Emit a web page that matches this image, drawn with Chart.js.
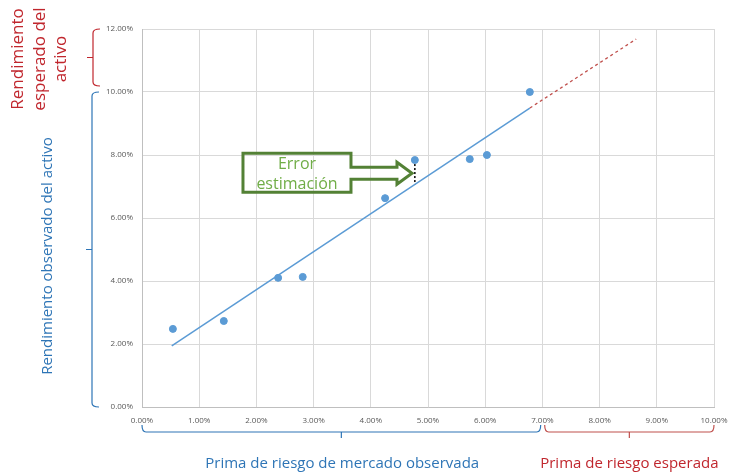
<!DOCTYPE html>
<html>
<head>
<meta charset="utf-8">
<script src="https://cdn.jsdelivr.net/npm/chart.js@4/dist/chart.umd.min.js"></script>
<style>
  html, body { margin: 0; padding: 0; background: #fff; }
  #wrap { width: 732px; height: 474px; }
</style>
</head>
<body>
<div id="wrap"><canvas id="capmChart" width="732" height="474"></canvas></div>
<script>
// observed points (market premium %, asset return %)
const obsX = [0.54, 1.43, 2.38, 2.81, 4.25, 4.77, 5.73, 6.03, 6.78];
const obsY = [2.48, 2.73, 4.10, 4.13, 6.63, 7.84, 7.87, 8.00, 10.00];
// fitted line over observed range
const fitX = [0.52, 6.78];
const fitY = [1.94, 9.49];
// extrapolated (expected) part
const expX = [6.78, 8.64];
const expY = [9.49, 11.68];
// estimation error segment
const errX = [4.77, 4.77];
const errY = [7.84, 7.06];
const xTicks = [0, 1, 2, 3, 4, 5, 6, 7, 8, 9, 10];
const yTicks = [0, 2, 4, 6, 8, 10, 12];

const BLUE = '#5b9bd5';
const RED = '#c0504d';
const TXT_RED = '#c0262d';
const TXT_BLUE = '#2e75b6';
const GREEN_DK = '#538135';
const GREEN_TX = '#70ad47';

const pts = (xs, ys) => xs.map((x, i) => ({ x: x, y: ys[i] }));

function brace(ctx, horiz, a, b, pos, tip, color) {
  // a..b along axis, pos = line position, tip = mid point, hooks 7px
  const h = 7;
  ctx.save();
  ctx.strokeStyle = color;
  ctx.lineWidth = 1.2;
  ctx.beginPath();
  if (!horiz) {
    ctx.moveTo(pos + h, a);
    ctx.quadraticCurveTo(pos, a, pos, a + 4);
    ctx.lineTo(pos, b - 4);
    ctx.quadraticCurveTo(pos, b, pos + h, b);
    ctx.moveTo(pos, tip);
    ctx.lineTo(pos - 6, tip);
  } else {
    ctx.moveTo(a, pos - h);
    ctx.quadraticCurveTo(a, pos, a + 4, pos);
    ctx.lineTo(b - 4, pos);
    ctx.quadraticCurveTo(b, pos, b, pos - h);
    ctx.moveTo(tip, pos);
    ctx.lineTo(tip, pos + 6);
  }
  ctx.stroke();
  ctx.restore();
}

const decorations = {
  id: 'decorations',
  afterDraw(chart) {
    const ctx = chart.ctx;
    const xs = chart.scales.x, ys = chart.scales.y;
    const px = v => xs.getPixelForValue(v);
    const py = v => ys.getPixelForValue(v);

    // left braces
    brace(ctx, false, py(12), py(10) - 6, 93, (py(12) + py(10) - 6) / 2, TXT_RED);
    brace(ctx, false, py(10), py(0), 92, (py(10) + py(0)) / 2, TXT_BLUE);
    // bottom braces
    brace(ctx, true, px(0), px(6.97), 432, (px(0) + px(6.97)) / 2, TXT_BLUE);
    brace(ctx, true, px(7.04), px(10), 432, (px(7.04) + px(10)) / 2, RED);

    ctx.save();
    ctx.textAlign = 'center';
    ctx.textBaseline = 'middle';
    // rotated red label
    ctx.fillStyle = TXT_RED;
    ctx.font = '17px "Open Sans", sans-serif';
    ctx.save();
    ctx.translate(0, 59);
    ctx.rotate(-Math.PI / 2);
    ctx.fillText('Rendimiento', 0, 18);
    ctx.fillText('esperado del', 0, 40);
    ctx.fillText('activo', 0, 61);
    ctx.restore();
    // rotated blue label
    ctx.fillStyle = TXT_BLUE;
    ctx.font = '15px "Open Sans", sans-serif';
    ctx.save();
    ctx.translate(48, 256);
    ctx.rotate(-Math.PI / 2);
    ctx.fillText('Rendimiento observado del activo', 0, 0);
    ctx.restore();
    // bottom labels
    ctx.font = '15px "Open Sans", sans-serif';
    ctx.fillText('Prima de riesgo de mercado observada', (px(0) + px(7)) / 2, 464);
    ctx.fillStyle = TXT_RED;
    ctx.fillText('Prima de riesgo esperada', (px(7.04) + px(10)) / 2, 464);

    // error callout arrow
    const tipX = px(4.72), tipY = py(7.42);
    const L = tipX - 169, R = tipX - 61, T = tipY - 20, B = tipY + 19;
    const hx = tipX - 15;
    ctx.strokeStyle = GREEN_DK;
    ctx.lineWidth = 3;
    ctx.lineJoin = 'miter';
    ctx.beginPath();
    ctx.moveTo(L, T);
    ctx.lineTo(R, T);
    ctx.lineTo(R, tipY - 6);
    ctx.lineTo(hx, tipY - 6);
    ctx.lineTo(hx, tipY - 11);
    ctx.lineTo(tipX, tipY);
    ctx.lineTo(hx, tipY + 11);
    ctx.lineTo(hx, tipY + 6);
    ctx.lineTo(R, tipY + 6);
    ctx.lineTo(R, B);
    ctx.lineTo(L, B);
    ctx.closePath();
    ctx.stroke();
    ctx.fillStyle = GREEN_TX;
    ctx.font = '16px "Open Sans", sans-serif';
    ctx.fillText('Error', (L + R) / 2, tipY - 9);
    ctx.fillText('estimación', (L + R) / 2, tipY + 11);
    ctx.restore();
  }
};

const ctx = document.getElementById('capmChart').getContext('2d');
new Chart(ctx, {
  type: 'scatter',
  data: {
    datasets: [
      {
        label: 'Observado',
        data: pts(obsX, obsY),
        backgroundColor: BLUE,
        borderColor: BLUE,
        pointRadius: 3.5,
        showLine: false,
        order: 1
      },
      {
        label: 'Ajuste',
        data: pts(fitX, fitY),
        borderColor: BLUE,
        borderWidth: 1.5,
        pointRadius: 0,
        showLine: true,
        order: 2
      },
      {
        label: 'Esperado',
        data: pts(expX, expY),
        borderColor: RED,
        borderWidth: 1.3,
        borderDash: [3, 3],
        pointRadius: 0,
        showLine: true,
        order: 2
      },
      {
        label: 'Error',
        data: pts(errX, errY),
        borderColor: '#000',
        borderWidth: 1.5,
        borderDash: [2, 2],
        pointRadius: 0,
        showLine: true,
        order: 2
      }
    ]
  },
  options: {
    responsive: false,
    animation: false,
    layout: { padding: { left: 102, right: 18, top: 29, bottom: 42 } },
    plugins: { legend: { display: false }, tooltip: { enabled: false } },
    scales: {
      x: {
        type: 'linear',
        min: 0,
        max: 10,
        afterBuildTicks: s => { s.ticks = xTicks.map(v => ({ value: v })); },
        afterFit: s => { s.height = 25; s.paddingLeft = 0; s.paddingRight = 0; },
        grid: { color: '#d9d9d9', drawTicks: false },
        border: { color: '#bfbfbf' },
        ticks: {
          padding: 9,
          color: '#595959',
          font: { size: 8, family: '"Open Sans", sans-serif' },
          callback: v => v.toFixed(2) + '%'
        }
      },
      y: {
        type: 'linear',
        min: 0,
        max: 12,
        afterBuildTicks: s => { s.ticks = yTicks.map(v => ({ value: v })); },
        afterFit: s => { s.width = 40; s.paddingTop = 0; s.paddingBottom = 0; },
        grid: { color: '#d9d9d9', drawTicks: false },
        border: { color: '#bfbfbf' },
        ticks: {
          padding: 9,
          color: '#595959',
          font: { size: 8, family: '"Open Sans", sans-serif' },
          callback: v => v.toFixed(2) + '%'
        }
      }
    }
  },
  plugins: [decorations]
});
</script>
</body>
</html>
